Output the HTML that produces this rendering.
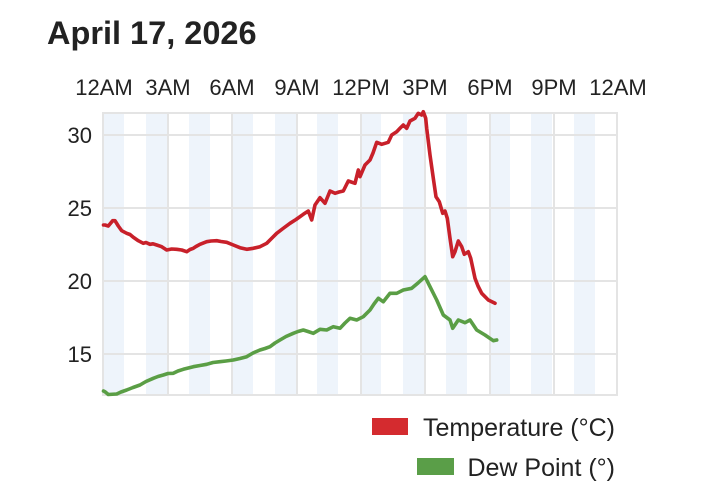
<!DOCTYPE html>
<html><head><meta charset="utf-8"><style>
html,body{margin:0;padding:0;background:#fff;}
svg{display:block;}
text{font-family:"Liberation Sans",Arial,sans-serif;fill:#222;}
</style></head><body>
<svg width="708" height="481" viewBox="0 0 708 481" xmlns="http://www.w3.org/2000/svg">
<rect width="708" height="481" fill="#fff"/>
<text x="47" y="44" font-size="32.5" font-weight="bold" fill="#222">April 17, 2026</text>
<g font-size="22" text-anchor="middle">
<text x="104" y="95">12AM</text>
<text x="168" y="95">3AM</text>
<text x="232" y="95">6AM</text>
<text x="297" y="95">9AM</text>
<text x="361" y="95">12PM</text>
<text x="425" y="95">3PM</text>
<text x="490" y="95">6PM</text>
<text x="554" y="95">9PM</text>
<text x="618" y="95">12AM</text>
</g>
<g font-size="22" text-anchor="end">
<text x="92" y="143">30</text>
<text x="92" y="216">25</text>
<text x="92" y="289">20</text>
<text x="92" y="362">15</text>
</g>
<g fill="#eef4fb">
<rect x="103" y="114" width="21" height="281"/>
<rect x="146" y="114" width="21" height="281"/>
<rect x="189" y="114" width="21" height="281"/>
<rect x="232" y="114" width="21" height="281"/>
<rect x="275" y="114" width="21" height="281"/>
<rect x="317" y="114" width="21" height="281"/>
<rect x="360" y="114" width="21" height="281"/>
<rect x="403" y="114" width="21" height="281"/>
<rect x="446" y="114" width="21" height="281"/>
<rect x="489" y="114" width="21" height="281"/>
<rect x="531" y="114" width="21" height="281"/>
<rect x="574" y="114" width="21" height="281"/>
</g>
<g stroke="#e4e4e4" stroke-width="2" fill="none">
<line x1="103" y1="135" x2="617" y2="135"/>
<line x1="103" y1="208" x2="617" y2="208"/>
<line x1="103" y1="281" x2="617" y2="281"/>
<line x1="103" y1="354" x2="617" y2="354"/>
<line x1="168" y1="113" x2="168" y2="395"/>
<line x1="232" y1="113" x2="232" y2="395"/>
<line x1="297" y1="113" x2="297" y2="395"/>
<line x1="361" y1="113" x2="361" y2="395"/>
<line x1="425" y1="113" x2="425" y2="395"/>
<line x1="490" y1="113" x2="490" y2="395"/>
<line x1="554" y1="113" x2="554" y2="395"/>
<rect x="103" y="113" width="514" height="282"/>
</g>
<polyline fill="none" stroke="#c8202a" stroke-width="3.6" stroke-linejoin="round" stroke-linecap="round" points="103.5,225 105,225 108.3,226 112.7,220.7 115,220.7 118.3,226 121.7,230.7 126.7,233.3 130,234.5 133.3,237.3 138.3,240.7 143.3,243.3 146,242.5 150,244.3 153,243.8 156.7,245 161.7,246.7 166.7,250 171.7,249 176.7,249.3 181.7,250 186.7,251.7 190,249.5 193.3,248.3 196,246.5 200,244.3 206.7,241.7 211,241 216.7,240.7 221,241.5 226.7,242.3 233.3,245 240,247.7 246.7,249.3 253.3,248.3 260,246.7 266.7,243.3 271,239 276.7,233.3 283,228.5 290,223.3 296,219.5 303.3,214.3 308.3,211 311.7,220 315,205 320,197.7 325,203.3 330,191 335,193.3 339,192 343.3,191 348.3,181 355,183.3 358.3,170 360,176.7 365,165 370,160 373,153 376.7,142.3 381.7,144.3 388.3,142.3 391.7,135 396.7,131.7 400,128.3 403.3,125 406.7,128.3 410,121 415,118.3 418.3,113.3 421.7,115 423.3,111.7 425.7,118.3 426.7,128.3 430,155 433.3,178.3 436,196.7 439.3,201.7 442.7,213.3 445,211 447.3,218.3 450,238.3 452.7,256.7 455,251.7 458.3,241 461.7,246.7 464.3,254.3 468.3,251.7 470.7,258.3 475,278.3 478,286 481.7,293.3 488.3,300 495,303.3"/>
<polyline fill="none" stroke="#5a9e45" stroke-width="3.6" stroke-linejoin="round" stroke-linecap="round" points="103.5,391 105,391.7 108.3,394.5 116.7,394 121,392 126.7,390 133,387.5 140,385 146,381.5 153.3,378.3 158,376.5 163.3,375 168,373.5 173.3,373.3 178,371 183.3,369.3 193.3,366.7 200,365.5 206.7,364.3 213,362.5 220,361.7 226,361 233.3,360 240,358.5 246.7,356.7 253,353 260,350 265,348.5 270,346.7 275,343 280,340 286,336.5 293.3,333.3 298,331.5 303.3,330 308,331.5 313.3,333.3 320,329.3 326.7,330 333.3,326.7 340,328.3 345,323 350,318.3 356.7,320 363.3,316.7 370,310 374,304 378.3,298.3 383.3,301.7 390,293.3 396.7,293.3 403.3,290 411.7,288.3 418.3,282.7 425,276.7 430,286.7 436.7,300 443.3,315 450,320 452.7,328.3 458.3,320 465,322.7 470,320 476.7,330 485,335 493.3,340.7 496.7,340"/>
<rect x="372" y="418" width="36" height="17" fill="#d42b2f"/>
<text x="615" y="436" font-size="25" text-anchor="end" fill="#333">Temperature (°C)</text>
<rect x="417" y="458" width="37" height="17" fill="#5a9e48"/>
<text x="615" y="476" font-size="25" text-anchor="end" fill="#333">Dew Point (°)</text>
</svg>
</body></html>
